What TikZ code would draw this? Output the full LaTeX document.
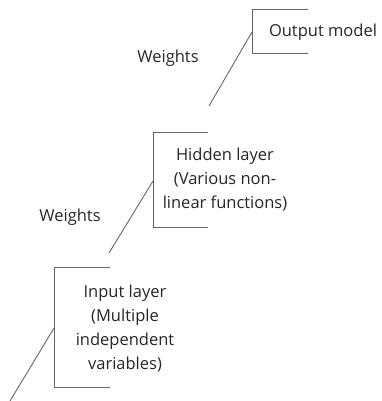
\documentclass[tikz,border=0pt]{standalone}
\usepackage{fontspec}
\setmainfont{Open Sans}
\begin{document}
\begin{tikzpicture}[x=1pt,y=-1pt,
  bracket/.style={draw=black!60,line width=0.9pt},
  link/.style={draw=black!60,line width=0.9pt},
  lbl/.style={text=black!85,font=\fontsize{16.5}{24}\selectfont,align=center,inner sep=0pt}]
\useasboundingbox (0,0) rectangle (381,401);
% output
\draw[bracket] (308,9) -- (252,9) -- (252,53) -- (308,53);
\coordinate (outin) at (252,32);
\node[lbl] (out) at (323,32) {Output model};
% hidden
\draw[bracket] (208,132) -- (153,132) -- (153,227) -- (208,227);
\coordinate (hidin) at (153,181);
\coordinate (hidout) at (209,106);
\node[lbl] (hid) at (225,180) {Hidden layer\\(Various non-\\linear functions)};
% input
\draw[bracket] (110,267) -- (54,267) -- (54,387) -- (110,387);
\coordinate (inin) at (54,328);
\coordinate (inout) at (109,253);
\coordinate (start) at (10,401);
\node[lbl] (inp) at (125,329) {Input layer\\(Multiple\\independent\\variables)};
% links
\draw[link] (hidout) -- (outin);
\draw[link] (inout) -- (hidin);
\draw[link] (start) -- (inin);
% weights
\node[lbl] (w1) at (168,58) {Weights};
\node[lbl] (w2) at (70,217) {Weights};
\end{tikzpicture}
\end{document}
